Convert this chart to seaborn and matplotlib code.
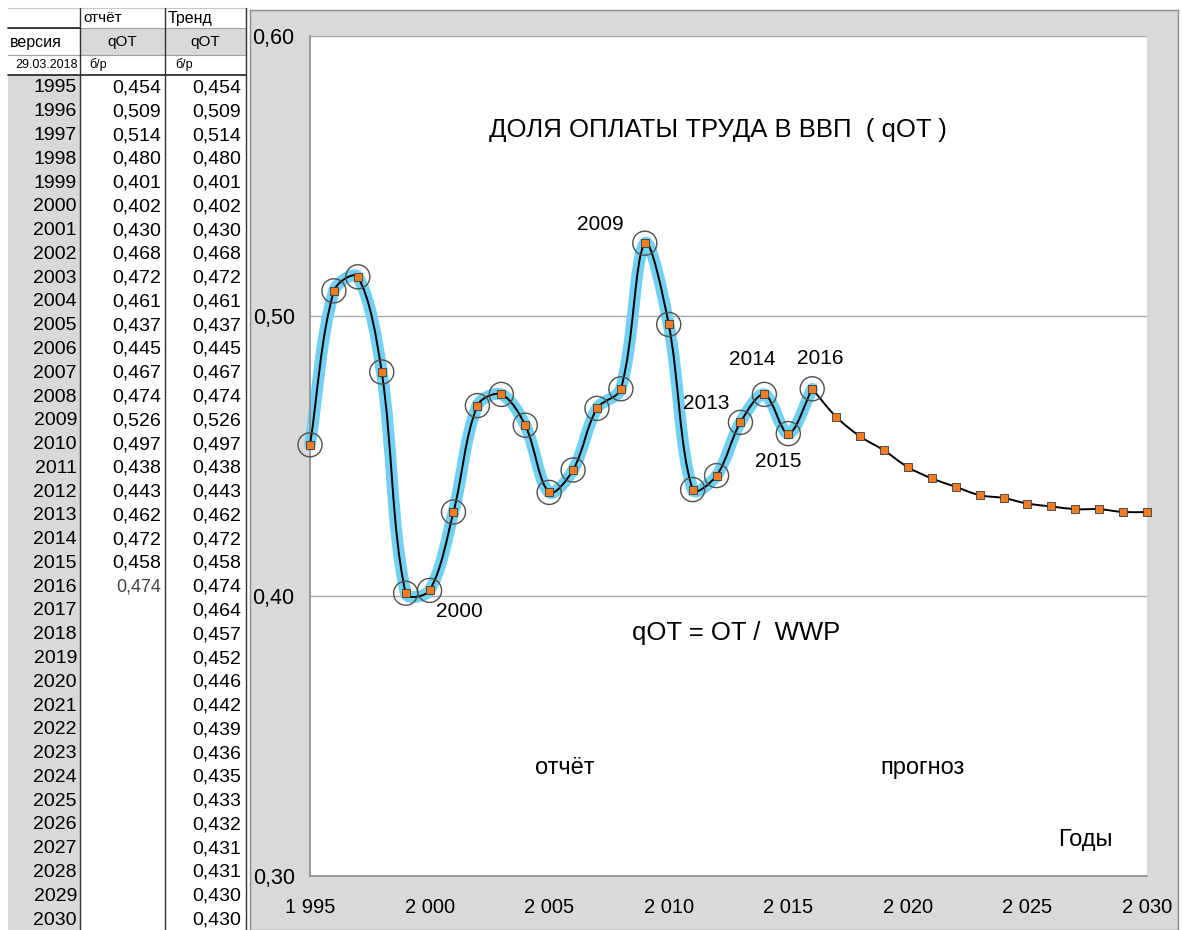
import numpy as np
import matplotlib.pyplot as plt
import matplotlib.patches as mpatches
from matplotlib.path import Path
import matplotlib.ticker as mticker
import seaborn as sns

# --- data -------------------------------------------------------------
years = list(range(1995, 2031))
report_years = list(range(1995, 2017))
report_qot = [0.454, 0.509, 0.514, 0.480, 0.401, 0.402, 0.430, 0.468, 0.472,
              0.461, 0.437, 0.445, 0.467, 0.474, 0.526, 0.497, 0.438, 0.443,
              0.462, 0.472, 0.458, 0.474]
forecast_qot = [0.464, 0.457, 0.452, 0.446, 0.442, 0.439, 0.436, 0.435,
                0.433, 0.432, 0.431, 0.431, 0.430, 0.430]
trend_qot = report_qot + forecast_qot

x_ticks = [1995, 2000, 2005, 2010, 2015, 2020, 2025, 2030]
y_ticks = [0.30, 0.40, 0.50, 0.60]

# point labels: (text, x, y)
year_labels = [("2009", 2007.13, 0.5325), ("2000", 2001.23, 0.3943),
               ("2013", 2011.56, 0.4686), ("2014", 2013.48, 0.4846),
               ("2016", 2016.33, 0.4850), ("2015", 2014.57, 0.4482)]

sns.set_style("white")
plt.rcParams['font.family'] = ['Liberation Sans', 'DejaVu Sans']
plt.rcParams['text.color'] = 'black'
plt.rcParams['xtick.labelcolor'] = 'black'
plt.rcParams['ytick.labelcolor'] = 'black'

W, H = 1182, 930
fig = plt.figure(figsize=(W / 100, H / 100), dpi=100)
fig.patch.set_facecolor('white')


def fx(px):
    return px / W


def fy(py):
    return 1 - py / H


# gray chart area (its own background axes so it sits under the plot)
axbg = fig.add_axes([fx(250), fy(930), fx(928), 920 / H], zorder=-1)
axbg.set_facecolor('#d9d9d9')
axbg.set_xticks([])
axbg.set_yticks([])
for s in axbg.spines.values():
    s.set_color('#8c8c8c')
    s.set_linewidth(1)

# --- table on the left ------------------------------------------------
axt = fig.add_axes([0, 0, fx(250), 1])
axt.set_xlim(0, 250)
axt.set_ylim(930, 0)
axt.axis('off')

axt.add_patch(mpatches.Rectangle((8, 75), 72, 860, facecolor='#d9d9d9', lw=0))
axt.add_patch(mpatches.Rectangle((80, 28), 166, 27, facecolor='#d9d9d9', lw=0))
axt.plot([8, 246], [8, 8], color='#c8c8c8', lw=0.8)
axt.plot([8, 246], [28, 28], color='#a0a0a0', lw=0.8)
axt.plot([8, 80], [28, 28], color='#202020', lw=1.2)
axt.plot([8, 246], [55, 55], color='#a0a0a0', lw=0.8)
axt.plot([8, 246], [75, 75], color='#202020', lw=1.2)
for xv in [80, 165, 246]:
    axt.plot([xv, xv], [8, 930], color='#303030', lw=1.0)

axt.text(83, 18, "отчёт", fontsize=11, va='center', ha='left')
axt.text(168, 18, "Тренд", fontsize=11.5, va='center', ha='left')
axt.text(10, 42, "версия", fontsize=11.5, va='center', ha='left')
axt.text(122, 42, "qOT", fontsize=11, va='center', ha='center')
axt.text(205, 42, "qOT", fontsize=11, va='center', ha='center')
axt.text(78, 65, "29.03.2018", fontsize=9, va='center', ha='right')
axt.text(89, 65, "б/р", fontsize=9, va='center', ha='left')
axt.text(175, 65, "б/р", fontsize=9, va='center', ha='left')

row_step = (920 - 88) / 35
for i, yr in enumerate(years):
    yy = 88 + i * row_step
    axt.text(77, yy, str(yr), fontsize=14, va='center', ha='right')
    if i < len(report_qot):
        last = i == len(report_qot) - 1
        axt.text(161, yy, f"{report_qot[i]:.3f}".replace('.', ','),
                 fontsize=13 if last else 14, color='#444444' if last else 'black',
                 va='center', ha='right')
    axt.text(241, yy, f"{trend_qot[i]:.3f}".replace('.', ','), fontsize=14,
             va='center', ha='right')

# --- chart --------------------------------------------------------------
ax = fig.add_axes([fx(310), 1 - 876 / H, fx(1147 - 310), (876 - 36) / H])
ax.set_facecolor('white')
ax.set_xlim(1995, 2030)
ax.set_ylim(0.30, 0.60)


def smooth_path(ax, xs, ys):
    # Excel-like smoothed line: Bezier segments, control arms weighted by
    # on-screen segment length
    pts = ax.transData.transform(np.column_stack([xs, ys]))
    n = len(pts)
    verts = [pts[0]]
    codes = [Path.MOVETO]
    for i in range(n - 1):
        p0 = pts[i - 1] if i > 0 else pts[i]
        p1 = pts[i]
        p2 = pts[i + 1]
        p3 = pts[i + 2] if i + 2 < n else pts[i + 1]
        d01 = np.hypot(*(p1 - p0))
        d12 = np.hypot(*(p2 - p1))
        d23 = np.hypot(*(p3 - p2))
        c1 = p1 + (p2 - p0) * d12 / (d01 + d12) / 3
        c2 = p2 - (p3 - p1) * d12 / (d12 + d23) / 3
        verts += [c1, c2, p2]
        codes += [Path.CURVE4] * 3
    verts = ax.transData.inverted().transform(np.array(verts))
    return Path(verts, codes)


ax.add_patch(mpatches.PathPatch(smooth_path(ax, report_years, report_qot),
                                facecolor='none', edgecolor='#70d1f3', lw=8.5,
                                capstyle='round', joinstyle='round', zorder=2,
                                clip_on=False))
ax.add_patch(mpatches.PathPatch(smooth_path(ax, report_years, report_qot),
                                facecolor='none', edgecolor='black', lw=1.4,
                                zorder=3, clip_on=False))
ax.add_patch(mpatches.PathPatch(smooth_path(ax, years[21:], trend_qot[21:]),
                                facecolor='none', edgecolor='black', lw=1.4,
                                zorder=3, clip_on=False))

sns.scatterplot(x=report_years, y=report_qot, ax=ax, s=300, marker='o',
                facecolor='none', edgecolor='#505050', linewidth=1.0, zorder=4,
                clip_on=False)
sns.scatterplot(x=years, y=trend_qot, ax=ax, s=30, marker='s',
                color='#f07d22', edgecolor='#3a3a3a', linewidth=0.6, zorder=5,
                clip_on=False)

ax.set_xticks(x_ticks)
ax.set_yticks(y_ticks)
ax.xaxis.set_major_formatter(mticker.FuncFormatter(
    lambda v, p: f"{int(round(v)):,}".replace(',', ' ')))
ax.yaxis.set_major_formatter(mticker.FuncFormatter(
    lambda v, p: f"{v:.2f}".replace('.', ',')))
ax.tick_params(axis='y', direction='out', length=6, width=1, color='#8c8c8c',
               labelsize=15.5, pad=5)
ax.tick_params(axis='x', direction='out', length=6, width=1, color='#8c8c8c',
               labelsize=14.5, pad=10)
ax.grid(axis='y', color='#a6a6a6', lw=1)
ax.set_axisbelow(True)
for s in ['top', 'right']:
    ax.spines[s].set_visible(False)
for s in ['left', 'bottom']:
    ax.spines[s].set_color('#8c8c8c')
    ax.spines[s].set_linewidth(1.2)
ax.set_xlabel('')
ax.set_ylabel('')

ax.text(2012.06, 0.5664, "ДОЛЯ ОПЛАТЫ ТРУДА В ВВП  ( qOT )", fontsize=18.5,
        ha='center', va='center')
for txt, xv, yv in year_labels:
    ax.text(xv, yv, txt, fontsize=15, ha='center', va='center')
ax.text(2012.8, 0.3868, "qOT = OT /  WWP", fontsize=18.5, ha='center', va='center')
ax.text(2005.66, 0.3386, "отчёт", fontsize=17, ha='center', va='center')
ax.text(2020.63, 0.3386, "прогноз", fontsize=17, ha='center', va='center')
ax.text(2027.41, 0.3129, "Годы", fontsize=17, ha='center', va='center')

fig.savefig('out.png', dpi=100)
